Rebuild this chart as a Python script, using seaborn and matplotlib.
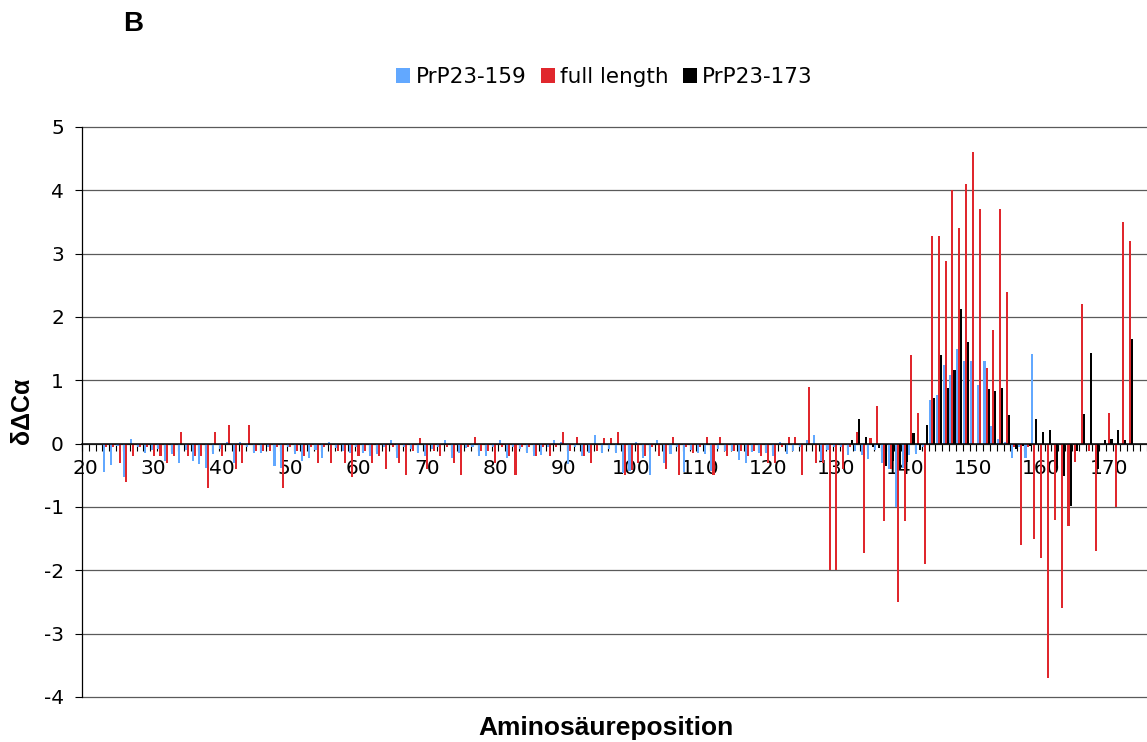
import numpy as np
import pandas as pd
import matplotlib
matplotlib.use("Agg")
import matplotlib.pyplot as plt
from matplotlib.patches import Patch
import seaborn as sns

# Category axis: residue positions shown on the x axis
first_residue = 20
last_residue = 175
tick_residues = [20, 30, 40, 50, 60, 70, 80, 90, 100, 110, 120, 130, 140, 150, 160, 170]

series_names = ["PrP23-159", "full length", "PrP23-173"]
series_colors = ["#62A8FF", "#E0272D", "#000000"]

# PrP23-159: residues 23..159
start_159 = 23
values_159 = [
    -0.45, -0.34, -0.03, -0.53, 0.08, -0.05, -0.15, -0.10, -0.08, -0.27,   # 23-32
    -0.16, -0.31, -0.10, -0.28, -0.32, -0.39, -0.17, -0.08, 0.02, -0.30,    # 33-42
    0.02, -0.05, -0.15, -0.15, -0.05, -0.35, -0.38, -0.05, -0.17, -0.28,    # 43-52
    -0.23, -0.10, -0.22, 0.03, -0.07, -0.12, -0.15, -0.05, -0.14, -0.19,    # 53-62
    -0.17, -0.05, 0.06, -0.23, -0.05, -0.08, -0.14, -0.19, -0.08, -0.05,    # 63-72
    0.06, -0.23, -0.15, -0.07, -0.05, -0.20, -0.19, -0.05, 0.06, -0.23,     # 73-82
    -0.05, -0.08, -0.14, -0.19, -0.18, -0.05, 0.06, 0.03, -0.32, -0.05,     # 83-92
    -0.19, -0.14, 0.13, -0.14, -0.08, -0.14, -0.47, -0.43, 0.03, -0.22,     # 93-102
    -0.50, 0.06, -0.30, -0.17, -0.05, -0.45, -0.10, -0.15, -0.16, -0.43,    # 103-112
    -0.08, -0.12, -0.12, -0.25, -0.31, -0.13, -0.15, -0.15, -0.20, 0.02,    # 113-122
    -0.16, -0.12, -0.05, 0.06, 0.13, -0.28, -0.10, -0.05, -0.05, -0.18,     # 123-132
    -0.12, -0.18, -0.24, -0.10, -0.30, -0.40, -1.00, -0.39, -0.18, -0.16,   # 133-142
    -0.05, 0.69, 0.77, 1.24, 1.08, 1.49, 1.31, 1.31, 0.92, 1.31,            # 143-152
    0.28, 0.08, 0.02, -0.22, -0.05, -0.22, 1.42,                            # 153-159
]

# full length: residues 23..173
start_full = 23
values_full = [
    -0.05, -0.05, -0.30, -0.60, -0.20, -0.05, -0.05, -0.20, -0.20, -0.30,  # 23-32
    -0.20, 0.19, -0.20, -0.20, -0.20, -0.70, 0.19, -0.20, 0.30, -0.40,      # 33-42
    -0.30, 0.30, -0.11, -0.11, -0.11, -0.05, -0.70, -0.05, -0.11, -0.20,    # 43-52
    -0.05, -0.30, -0.05, -0.30, -0.11, -0.30, -0.53, -0.20, -0.11, -0.30,   # 53-62
    -0.20, -0.40, -0.05, -0.30, -0.50, -0.11, 0.09, -0.40, -0.11, -0.20,    # 63-72
    -0.05, -0.30, -0.50, -0.05, 0.10, -0.11, -0.11, -0.30, -0.05, -0.20,    # 73-82
    -0.50, -0.05, -0.05, -0.20, -0.05, -0.20, -0.05, 0.19, -0.11, 0.10,     # 83-92
    -0.20, -0.30, -0.11, 0.09, 0.09, 0.19, -0.50, -0.42, -0.30, -0.19,      # 93-102
    -0.05, -0.20, -0.40, 0.10, -0.50, -0.05, -0.15, -0.05, 0.10, -0.50,     # 103-112
    0.10, -0.20, -0.11, -0.11, -0.20, -0.11, -0.20, -0.30, -0.30, -0.05,    # 113-122
    0.10, 0.10, -0.50, 0.90, -0.30, -0.30, -2.00, -2.00, -0.40, -0.05,      # 123-132
    0.19, -1.72, 0.09, 0.60, -1.22, -0.40, -2.50, -1.22, 1.40, 0.49,        # 133-142
    -1.90, 3.28, 3.28, 2.89, 4.00, 3.40, 4.10, 4.60, 3.70, 1.19,            # 143-152
    1.80, 3.70, 2.39, -0.05, -1.60, -0.05, -1.50, -1.80, -3.70, -1.20,      # 153-162
    -2.60, -1.30, -0.29, 2.20, -0.11, -1.70, 0.00, 0.48, -1.00, 3.50,       # 163-172
    3.20,                                                                   # 173
]

# PrP23-173: residues 132..173
start_173 = 132
values_173 = [
    0.06, 0.39, 0.10, -0.06, -0.07, -0.36, -0.27, -0.40, -0.29, 0.17,       # 132-141
    -0.10, 0.29, 0.72, 1.40, 0.88, 1.17, 2.13, 1.60, 0.00, 0.00,            # 142-151
    0.86, 0.83, 0.88, 0.46, -0.09, -0.03, -0.03, 0.39, 0.18, 0.22,          # 152-161
    -0.39, -0.51, -0.98, -0.12, 0.47, 1.43, -0.40, 0.06, 0.08, 0.22,        # 162-171
    0.06, 1.65,                                                             # 172-173
]

y_ticks = [-4, -3, -2, -1, 0, 1, 2, 3, 4, 5]


def series_frame(name, start, values):
    residues = np.arange(start, start + len(values))
    return pd.DataFrame({"residue": residues, "value": values, "series": name})


df = pd.concat([
    series_frame(series_names[0], start_159, values_159),
    series_frame(series_names[1], start_full, values_full),
    series_frame(series_names[2], start_173, values_173),
], ignore_index=True)

categories = list(range(first_residue, last_residue + 1))

sns.set_style("white")
plt.rcParams["font.family"] = ["DejaVu Sans"]
plt.rcParams["axes.unicode_minus"] = False
for key in ("text.color", "axes.labelcolor", "xtick.color", "ytick.color",
            "xtick.labelcolor", "ytick.labelcolor"):
    plt.rcParams[key] = "black"

W, H = 1147, 742
fig = plt.figure(figsize=(W / 100, H / 100), dpi=100)
ax = fig.add_axes([82 / W, 1 - 697 / H, 1 - 82 / W, (697 - 127) / H])

sns.barplot(
    data=df, x="residue", y="value", hue="series",
    order=categories, hue_order=series_names, palette=series_colors,
    width=0.9, gap=0, errorbar=None, saturation=1, linewidth=0,
    legend=False, ax=ax, zorder=2,
)

ax.set_ylim(-4, 5)
ax.set_xlim(-0.5, (W - 82) / 6.83 - 0.5)
ax.set_yticks(y_ticks)
ax.set_yticklabels([str(v) for v in y_ticks])

tick_pos = [categories.index(r) for r in tick_residues]
ax.set_xticks(tick_pos)
ax.set_xticklabels([str(r) for r in tick_residues])
ax.set_xticks(np.arange(-0.5, len(categories), 1.0), minor=True)

ax.set_xlabel("")
ax.set_ylabel("")

# horizontal grid lines, including the ones on the plot border
ax.set_axisbelow(True)
ax.yaxis.grid(True, color="#5a5a5a", linewidth=0.9)
ax.xaxis.grid(False)
for gl in ax.get_ygridlines():
    gl.set_clip_on(False)

for side in ("top", "right"):
    ax.spines[side].set_visible(False)
ax.spines["left"].set_color("black")
ax.spines["left"].set_linewidth(0.9)
ax.spines["bottom"].set_position(("data", 0))
ax.spines["bottom"].set_color("black")
ax.spines["bottom"].set_linewidth(1.1)
ax.spines["bottom"].set_zorder(3)

ax.tick_params(axis="y", which="major", length=5, width=0.8, direction="out",
               pad=8, labelsize=14.5, colors="black", left=True)
ax.tick_params(axis="x", which="major", length=0, pad=11, labelsize=14.5,
               colors="black", bottom=True)
ax.tick_params(axis="x", which="minor", length=5, width=0.8, direction="out",
               colors="black", bottom=True)

# legend with square markers
handles = [Patch(facecolor=c, edgecolor="none", label=n)
           for n, c in zip(series_names, series_colors)]
leg = fig.legend(handles=handles, loc="center", bbox_to_anchor=(0.527, 1 - 77 / H),
                 ncol=3, frameon=False, fontsize=15.5, handlelength=0.65,
                 handleheight=0.65, handletextpad=0.25, columnspacing=0.65,
                 borderpad=0, borderaxespad=0)
for t in leg.get_texts():
    t.set_color("black")

fig.text(123 / W, 1 - 24 / H, "B", ha="left", va="center", color="black",
         fontsize=20, fontweight="bold", family=["Liberation Sans", "DejaVu Sans"])
fig.text(606 / W, 1 - 735 / H, "Aminosäureposition", ha="center", va="baseline",
         color="black", fontsize=19, fontweight="bold",
         family=["Liberation Sans", "DejaVu Sans"])
fig.text(22 / W, 1 - 411 / H, "δΔCα", ha="center", va="center", rotation=90,
         color="black", fontsize=18, fontweight="bold",
         family=["Liberation Sans", "DejaVu Sans"])

fig.savefig("out.png", dpi=100)
